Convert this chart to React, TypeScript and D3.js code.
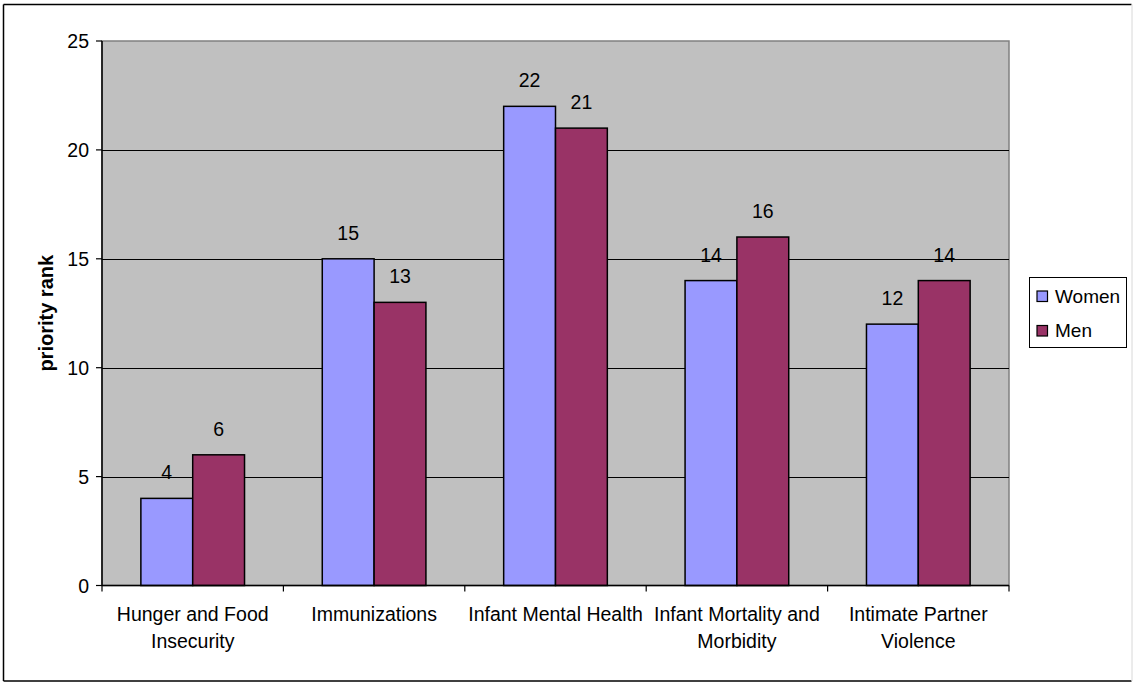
import React, { useMemo } from "react";
import * as d3 from "d3";

const categories = [
  "Hunger and Food Insecurity",
  "Immunizations",
  "Infant Mental Health",
  "Infant Mortality and Morbidity",
  "Intimate Partner Violence",
];
const seriesNames = ["Women", "Men"];
const women = [4, 15, 22, 14, 12];
const men = [6, 13, 21, 16, 14];
const yTicks = [0, 5, 10, 15, 20, 25];
const yTitle = "priority rank";

const W = 1134;
const H = 683;
const FONT = "'Liberation Sans', Arial, sans-serif";
const colors = ["#9999FF", "#993366"];

function wrap(text: string, maxW: number, font: string): string[] {
  const canvas = document.createElement("canvas");
  const ctx = canvas.getContext("2d")!;
  ctx.font = font;
  const words = text.split(" ");
  const lines: string[] = [];
  let cur = "";
  for (const w of words) {
    const t = cur ? cur + " " + w : w;
    if (ctx.measureText(t).width > maxW && cur) {
      lines.push(cur);
      cur = w;
    } else cur = t;
  }
  if (cur) lines.push(cur);
  return lines;
}

export default function App() {
  const plot = { left: 102, right: 1009, top: 41, bottom: 585.5 };
  const x0 = d3
    .scaleBand<string>()
    .domain(categories)
    .range([plot.left, plot.right])
    .paddingInner(0)
    .paddingOuter(0);
  const bw = x0.bandwidth();
  const barW = bw / 3.5;
  const y = d3.scaleLinear().domain([0, 25]).range([plot.bottom, plot.top]);
  const data = [women, men];

  const wrapped = useMemo(
    () => categories.map((c) => wrap(c, 180, `19.5px ${FONT}`)),
    []
  );

  return (
    <svg
      width={W}
      height={H}
      style={{ position: "absolute", left: 0, top: 0, background: "#fff" }}
      fontFamily={FONT}
    >
      {/* outer border */}
      <line x1={3.5} y1={4.5} x2={1131.5} y2={4.5} stroke="#000" strokeWidth={1.5} />
      <line x1={3.5} y1={4.5} x2={3.5} y2={681} stroke="#000" strokeWidth={1.5} />
      <line x1={3.5} y1={681} x2={1131.5} y2={681} stroke="#000" strokeWidth={1.5} />
      <line x1={1132} y1={4.5} x2={1132} y2={681} stroke="#d8d8d8" strokeWidth={1} />

      {/* plot area */}
      <rect
        x={plot.left}
        y={plot.top}
        width={plot.right - plot.left}
        height={plot.bottom - plot.top}
        fill="#C0C0C0"
        stroke="#808080"
        strokeWidth={1.5}
      />
      {/* gridlines */}
      {yTicks.slice(1, -1).map((t) => (
        <line
          key={"g" + t}
          x1={plot.left}
          x2={plot.right}
          y1={Math.round(y(t)) + 0.5}
          y2={Math.round(y(t)) + 0.5}
          stroke="#000"
          strokeWidth={1}
        />
      ))}

      {/* bars */}
      {categories.map((c, i) =>
        data.map((s, si) => {
          const bx = (x0(c) as number) + (bw - 2 * barW) / 2 + si * barW;
          return (
            <rect
              key={c + si}
              x={bx}
              y={y(s[i])}
              width={barW}
              height={plot.bottom - y(s[i])}
              fill={colors[si]}
              stroke="#000"
              strokeWidth={1.5}
            />
          );
        })
      )}
      {/* value labels */}
      {categories.map((c, i) =>
        data.map((s, si) => {
          const bx = (x0(c) as number) + (bw - 2 * barW) / 2 + si * barW + barW / 2;
          return (
            <text
              key={"v" + c + si}
              x={bx}
              y={y(s[i]) - 19}
              textAnchor="middle"
              fontSize={19.5}
              fill="#000"
            >
              {s[i]}
            </text>
          );
        })
      )}

      {/* axes */}
      <line x1={plot.left} y1={plot.top} x2={plot.left} y2={plot.bottom} stroke="#000" strokeWidth={1.5} />
      <line x1={plot.left} y1={plot.bottom} x2={plot.right} y2={plot.bottom} stroke="#000" strokeWidth={1.5} />
      {yTicks.map((t) => (
        <g key={"yt" + t}>
          <line x1={96} x2={plot.left} y1={y(t)} y2={y(t)} stroke="#000" strokeWidth={1.2} />
          <text x={89} y={y(t)} dy="0.36em" textAnchor="end" fontSize={19.5}>
            {t}
          </text>
        </g>
      ))}
      {categories.map((c, i) => (
        <line
          key={"xt" + i}
          x1={x0(c) as number}
          x2={x0(c) as number}
          y1={plot.bottom}
          y2={plot.bottom + 6}
          stroke="#000"
          strokeWidth={1.2}
        />
      ))}
      <line
        x1={plot.right}
        x2={plot.right}
        y1={plot.bottom}
        y2={plot.bottom + 6}
        stroke="#000"
        strokeWidth={1.2}
      />
      {categories.map((c, i) => (
        <text
          key={"xl" + i}
          x={(x0(c) as number) + bw / 2}
          y={621}
          textAnchor="middle"
          fontSize={19.5}
        >
          {wrapped[i].map((ln, li) => (
            <tspan key={li} x={(x0(c) as number) + bw / 2} y={621 + li * 27}>
              {ln}
            </tspan>
          ))}
        </text>
      ))}

      {/* y title */}
      <text
        transform={`translate(${53},${(plot.top + plot.bottom) / 2}) rotate(-90)`}
        textAnchor="middle"
        fontSize={20}
        fontWeight="bold"
      >
        {yTitle}
      </text>

      {/* legend */}
      <rect x={1029.5} y={277.5} width={97} height={70} fill="#fff" stroke="#000" strokeWidth={1} />
      {seriesNames.map((n, i) => (
        <g key={n}>
          <rect
            x={1037}
            y={291 + i * 34.5}
            width={10.5}
            height={10.5}
            fill={colors[i]}
            stroke="#000"
            strokeWidth={1.2}
          />
          <text x={1055} y={296 + i * 34.5} dy="0.36em" fontSize={19}>
            {n}
          </text>
        </g>
      ))}
    </svg>
  );
}
